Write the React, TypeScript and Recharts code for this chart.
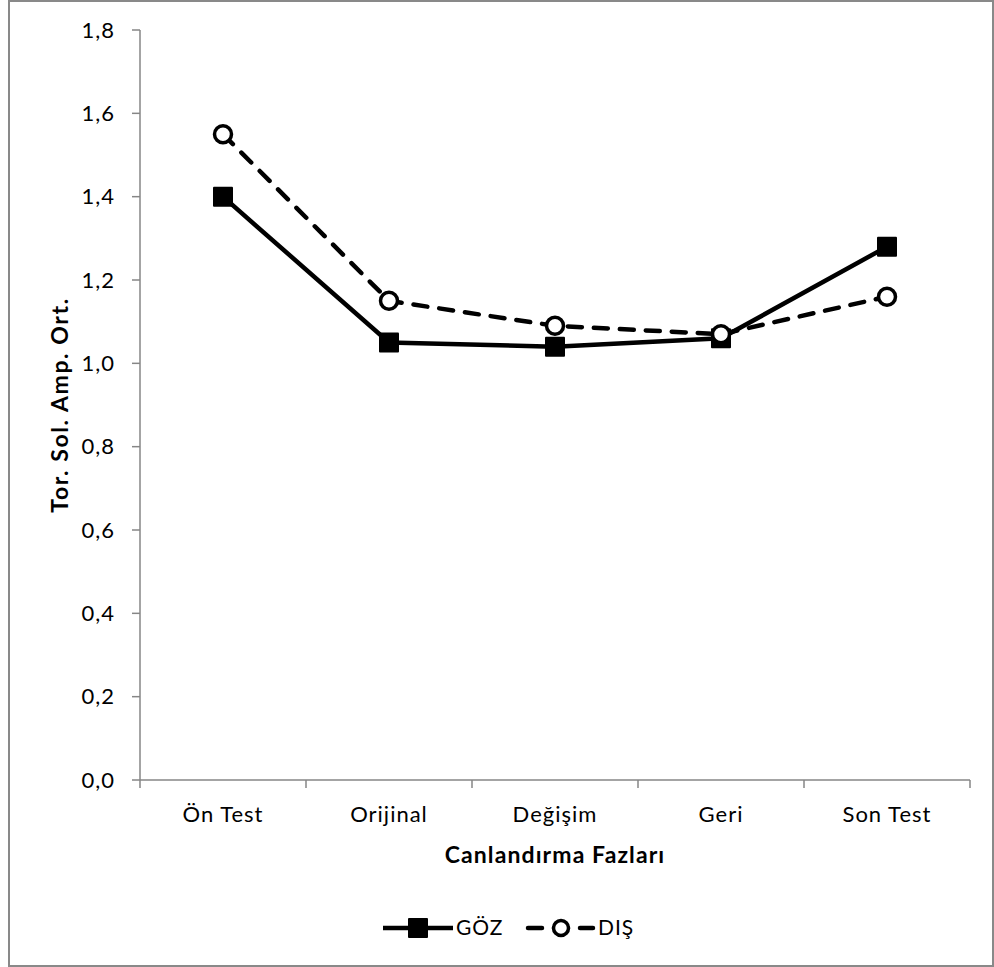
import React from "react";
import { LineChart, Line, XAxis, YAxis } from "recharts";

const categories = ["Ön Test", "Orijinal", "Değişim", "Geri", "Son Test"];
const gozValues = [1.4, 1.05, 1.04, 1.06, 1.28];
const disValues = [1.55, 1.15, 1.09, 1.07, 1.16];
const yTicks = [0, 0.2, 0.4, 0.6, 0.8, 1.0, 1.2, 1.4, 1.6, 1.8];

const data = categories.map((c, i) => ({ name: c, goz: gozValues[i], dis: disValues[i] }));

const FONT = "Lato, Carlito, Calibri, sans-serif";
const AXIS = "#868686";
const TICK_FS = 22;
const TICK_LS = 1;

const XTick = (props: any) => {
  const { x, y, payload } = props;
  const half = payload && payload.offset ? payload.offset : 83;
  const isLast = payload.index === categories.length - 1;
  const axisY = y - 8;
  return (
    <g>
      <line x1={x - half} x2={x - half} y1={axisY} y2={axisY + 8} stroke={AXIS} strokeWidth={1.5} />
      {isLast && (
        <line x1={x + half} x2={x + half} y1={axisY} y2={axisY + 8} stroke={AXIS} strokeWidth={1.5} />
      )}
      <text
        x={x}
        y={axisY + 42}
        textAnchor="middle"
        fontFamily={FONT}
        fontSize={TICK_FS}
        letterSpacing={TICK_LS}
        fill="#000"
      >
        {payload.value}
      </text>
    </g>
  );
};

const SquareDot = (props: any) => {
  const { cx, cy } = props;
  if (cx == null || cy == null) return null;
  return <rect x={cx - 10} y={cy - 10} width={20} height={20} fill="#000" rx={1} />;
};

const CircleDot = (props: any) => {
  const { cx, cy } = props;
  if (cx == null || cy == null) return null;
  return <circle cx={cx} cy={cy} r={8.5} fill="#fff" stroke="#000" strokeWidth={3.5} />;
};

const LegendBox = () => (
  <svg width={994} height={30} style={{ position: "absolute", left: 0, top: 913 }}>
    <g>
      <line x1={383} x2={453} y1={15} y2={15} stroke="#000" strokeWidth={4.5} />
      <rect x={408} y={5} width={20} height={20} fill="#000" rx={1} />
      <text x={456} y={22} fontFamily={FONT} fontSize={21} letterSpacing={TICK_LS} fill="#000">GÖZ</text>
    </g>
    <g>
      <line x1={528} x2={593} y1={15} y2={15} stroke="#000" strokeWidth={4.5} strokeDasharray="14 12" strokeLinecap="round" />
      <circle cx={561} cy={15} r={7.5} fill="#fff" stroke="#000" strokeWidth={3.5} />
      <text x={598} y={22} fontFamily={FONT} fontSize={21} letterSpacing={TICK_LS} fill="#000">DIŞ</text>
    </g>
  </svg>
);

const YTitle = () => (
  <text
    x={59}
    y={405}
    transform="rotate(-90 59 405)"
    textAnchor="middle"
    dominantBaseline="central"
    fontFamily={FONT}
    fontSize={23}
    fontWeight={700}
    letterSpacing={1.6}
    fill="#000"
  >
    Tor. Sol. Amp. Ort.
  </text>
);

const XTitle = () => (
  <text
    x={555}
    y={863}
    textAnchor="middle"
    fontFamily={FONT}
    fontSize={23}
    fontWeight={700}
    letterSpacing={1.1}
    fill="#000"
  >
    Canlandırma Fazları
  </text>
);

export default function App() {
  return (
    <div style={{ position: "absolute", left: 0, top: 0, width: 994, height: 967 }}>
      <div
        style={{
          position: "absolute",
          left: 8,
          top: 0,
          width: 986,
          height: 967,
          boxSizing: "border-box",
          border: "2px solid #898989",
        }}
      />
      <div style={{ position: "absolute", left: 0, top: 0 }}>
        <LineChart
          width={994}
          height={967}
          data={data}
          margin={{ top: 30, right: 24, bottom: 107, left: 80 }}
        >
          <XAxis
            dataKey="name"
            scale="band"
            axisLine={{ stroke: AXIS, strokeWidth: 1.5 }}
            tickLine={false}
            tick={<XTick />}
            interval={0}
            height={80}
            label={{ content: () => <XTitle /> }}
          />
          <YAxis
            domain={[0, 1.8]}
            ticks={yTicks}
            interval={0}
            width={60}
            axisLine={{ stroke: AXIS, strokeWidth: 1.5 }}
            tickLine={{ stroke: AXIS, strokeWidth: 1.5 }}
            tickSize={8}
            tickMargin={17}
            tickFormatter={(v: number) => v.toFixed(1).replace(".", ",")}
            tick={{ fontFamily: FONT, fontSize: TICK_FS, fill: "#000", letterSpacing: TICK_LS }}
            label={{ content: () => <YTitle /> }}
          />
          <Line
            type="linear"
            dataKey="goz"
            name="GÖZ"
            stroke="#000"
            strokeWidth={4.5}
            dot={<SquareDot />}
            activeDot={false}
            isAnimationActive={false}
          />
          <Line
            type="linear"
            dataKey="dis"
            name="DIŞ"
            stroke="#000"
            strokeWidth={4.5}
            strokeDasharray="14 12"
            strokeLinecap="round"
            dot={<CircleDot />}
            activeDot={false}
            isAnimationActive={false}
          />
        </LineChart>
      </div>
      <LegendBox />
    </div>
  );
}
